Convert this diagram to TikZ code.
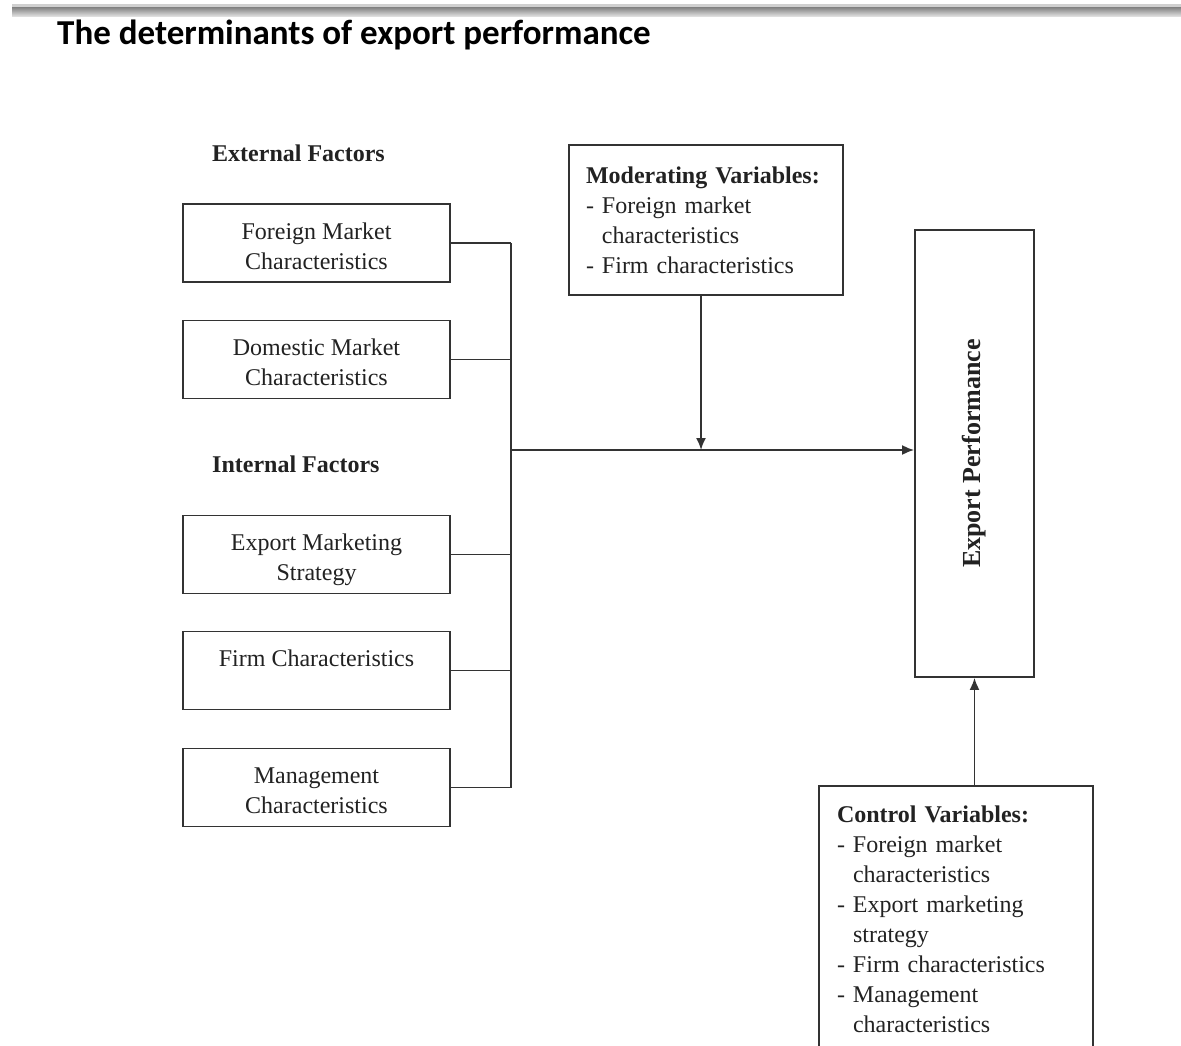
\documentclass[tikz,border=0pt]{standalone}
\usepackage{fontspec}
\usepackage{graphicx}
\setmainfont{Liberation Serif}
\newfontfamily\titlefont{Carlito}
\usetikzlibrary{arrows.meta,calc}
\definecolor{ink}{HTML}{222222}
\definecolor{linec}{HTML}{333333}
\newcommand\fbtext[1]{\raisebox{4pt}[0pt][0pt]{\begin{tabular}[t]{@{}c@{}}#1\end{tabular}}}
\begin{document}
\begin{tikzpicture}[x=1pt,y=-1pt,
  every node/.style={text=ink},
  txt/.style={font=\fontsize{24}{30}\selectfont},
  factor/.style={draw=linec,line width=1.8pt,minimum width=267pt,minimum height=78pt,inner sep=0pt,align=center,txt},
  listbox/.style={draw=linec,line width=1.8pt,minimum width=274pt,inner xsep=17pt,inner ysep=0pt,text width=240pt,align=left,txt},
  heading/.style={anchor=base west,inner sep=0pt,font=\fontsize{24}{30}\selectfont\bfseries},
  conn/.style={draw=linec,line width=1.8pt},
  arr/.style={conn,-{Latex[length=12pt,width=10pt]}}
]
\useasboundingbox (0,0) rectangle (1181,1046);
\begin{scope}
\clip (0,0) rectangle (1181,1046);
\fill[white] (0,0) rectangle (1181,1046);
% top bar
\fill[color={rgb,255:red,208;green,208;blue,208}] (12,4) rectangle (1181,8);
\shade[top color={rgb,255:red,138;green,138;blue,138},bottom color={rgb,255:red,232;green,232;blue,232}] (12,8) rectangle (1181,17);
% title
\node[anchor=base west,inner sep=0pt,font=\titlefont\bfseries\fontsize{35}{40}\selectfont,text=black] (title) at (57,45) {The determinants of export performance};
% headings
\node[heading] (ext) at (212,161) {External Factors};
\node[heading] (int) at (212,472) {Internal Factors};
% factor boxes
\node[factor] (b1) at (316.5,243) {\fbtext{Foreign Market\\Characteristics}};
\node[factor] (b2) at (316.5,359.5) {\fbtext{Domestic Market\\Characteristics}};
\node[factor] (b3) at (316.5,554.5) {\fbtext{Export Marketing\\Strategy}};
\node[factor] (b4) at (316.5,670.5) {\fbtext{Firm Characteristics}};
\node[factor] (b5) at (316.5,787.5) {\fbtext{Management\\Characteristics}};
% moderating
\node[listbox,minimum height=150pt] (mod) at (706,220) {\textbf{Moderating Variables:}\\-~Foreign market\\\phantom{-~}characteristics\\-~Firm characteristics};
% export performance
\node[draw=linec,line width=1.8pt,minimum width=119pt,minimum height=447pt,inner sep=0pt] (ep) at (974.5,453.5) {\rotatebox{90}{\fontsize{26}{30}\selectfont\bfseries Export Performance}};
% control
\node[listbox,minimum height=267pt,inner xsep=18pt,text width=238pt] (ctrl) at (956,919.5) {\textbf{Control Variables:}\\-~Foreign market\\\phantom{-~}characteristics\\-~Export marketing\\\phantom{-~}strategy\\-~Firm characteristics\\-~Management\\\phantom{-~}characteristics};
% connectors
\coordinate (vx) at (511,450);
\foreach \b in {b1,b2,b3,b4,b5} {\draw[conn] (\b.east) -- (\b.east -| vx);}
\draw[conn] (b1.east -| vx) -- (b5.east -| vx);
\draw[arr] (vx) -- (vx -| ep.west);
\draw[arr] ([xshift=-5pt]mod.south) -- ([xshift=-5pt]mod.south |- vx);
\draw[arr] (ep.south |- ctrl.north) -- (ep.south);
\end{scope}
\end{tikzpicture}
\end{document}
